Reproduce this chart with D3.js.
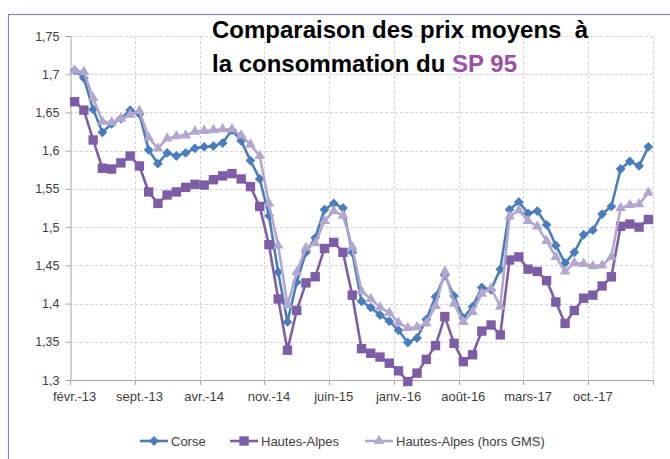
<!DOCTYPE html>
<html>
<head>
<meta charset="utf-8">
<script src="https://cdn.jsdelivr.net/npm/d3@7/dist/d3.min.js"></script>
<style>
html,body{margin:0;padding:0;background:#fff;}
svg{display:block;}
text{font-family:"Liberation Sans",Arial,sans-serif;}
</style>
</head>
<body>
<svg id="chart" width="670" height="459"></svg>
<script>
// ---- data ----
const monthNames = ["janv.","févr.","mars","avr.","mai","juin","juil.","août","sept.","oct.","nov.","déc."];
const startYear = 2013, startMonth = 1, nMonths = 63; // févr.-13 .. avr.-18
const categories = [];
for (let k = 0; k < nMonths; k++) {
  const m = (startMonth + k) % 12, yy = startYear + Math.floor((startMonth + k) / 12);
  categories.push(monthNames[m] + "-" + String(yy).slice(2));
}
const xTickLabels = ["févr.-13","sept.-13","avr.-14","nov.-14","juin-15","janv.-16","août-16","mars-17","oct.-17"];

const corse = [1.705,1.695,1.654,1.624,1.635,1.642,1.653,1.648,1.601,1.583,1.597,1.593,1.597,1.603,1.605,1.606,1.610,1.627,1.613,1.587,1.563,1.515,1.441,1.376,1.428,1.467,1.486,1.523,1.531,1.525,1.467,1.403,1.395,1.385,1.377,1.365,1.349,1.355,1.379,1.409,1.437,1.410,1.381,1.396,1.421,1.418,1.445,1.523,1.533,1.518,1.521,1.503,1.476,1.453,1.467,1.490,1.496,1.517,1.527,1.576,1.586,1.580,1.605];
const hautesAlpes = [1.664,1.653,1.614,1.577,1.576,1.584,1.593,1.580,1.546,1.531,1.542,1.546,1.552,1.556,1.555,1.562,1.567,1.570,1.563,1.553,1.527,1.477,1.406,1.339,1.391,1.427,1.435,1.472,1.480,1.467,1.411,1.341,1.335,1.330,1.322,1.312,1.298,1.309,1.327,1.345,1.383,1.348,1.324,1.333,1.364,1.372,1.359,1.457,1.461,1.445,1.442,1.430,1.402,1.374,1.391,1.407,1.411,1.423,1.435,1.501,1.504,1.500,1.510];
const horsGMS = [1.705,1.703,1.669,1.638,1.637,1.642,1.647,1.652,1.617,1.603,1.616,1.619,1.620,1.625,1.626,1.627,1.628,1.628,1.620,1.608,1.593,1.531,1.476,1.398,1.441,1.473,1.479,1.508,1.521,1.515,1.474,1.416,1.406,1.395,1.388,1.375,1.368,1.369,1.374,1.397,1.442,1.400,1.376,1.389,1.413,1.420,1.396,1.514,1.522,1.508,1.501,1.482,1.461,1.442,1.453,1.452,1.449,1.450,1.461,1.525,1.529,1.530,1.545];

const yTickValues = [1.3,1.35,1.4,1.45,1.5,1.55,1.6,1.65,1.7,1.75];
const yTickLabels = ["1,3","1,35","1,4","1,45","1,5","1,55","1,6","1,65","1,7","1,75"];
const seriesNames = ["Corse","Hautes-Alpes","Hautes-Alpes (hors GMS)"];

// ---- setup ----
const svg = d3.select("#chart");
const L = 70, R = 653, T = 36, B = 380;
const x = d3.scaleBand().domain(categories).range([L, R]).padding(0);
const bw = x.bandwidth();
const y = d3.scaleLinear().domain([1.3, 1.75]).range([B, T]);

svg.append("rect").attr("x",0).attr("y",0).attr("width",670).attr("height",459).attr("fill","#fff");
// outer frame
svg.append("rect").attr("x",8.5).attr("y",14.5).attr("width",700).attr("height",500)
  .attr("fill","none").attr("stroke","#8a84a0").attr("stroke-width",1.2);

// gridlines horizontal
svg.append("g").selectAll("line").data(yTickValues.slice(1)).join("line")
  .attr("x1",L).attr("x2",R).attr("y1",d=>Math.round(y(d))+0.5).attr("y2",d=>Math.round(y(d))+0.5)
  .attr("stroke","#d4d4d4").attr("stroke-dasharray","3,2");
// gridlines vertical at band boundaries every 7
const boundaries = d3.range(0, nMonths + 1, 7).map(k => k < nMonths ? x(categories[k]) : R);
svg.append("g").selectAll("line").data(boundaries.slice(1)).join("line")
  .attr("x1",d=>Math.round(d)+0.5).attr("x2",d=>Math.round(d)+0.5).attr("y1",T).attr("y2",B)
  .attr("stroke","#d4d4d4").attr("stroke-dasharray","3,2");

// y axis
const yAxis = d3.axisLeft(y).tickValues(yTickValues).tickSize(5).tickPadding(6)
  .tickFormat((d,i)=>yTickLabels[i]);
const gy = svg.append("g").attr("transform",`translate(${L+0.5},0)`).call(yAxis);
gy.select(".domain").attr("stroke","#a6a6a6");
gy.selectAll(".tick line").attr("stroke","#a6a6a6");
gy.selectAll("text").attr("fill","#404040").style("font-size","12.5px");

// x axis
svg.append("line").attr("x1",L).attr("x2",R).attr("y1",B+0.5).attr("y2",B+0.5).attr("stroke","#a6a6a6");
svg.append("g").selectAll("line").data(boundaries).join("line")
  .attr("x1",d=>Math.round(d)+0.5).attr("x2",d=>Math.round(d)+0.5).attr("y1",B).attr("y2",B+5)
  .attr("stroke","#a6a6a6");
const xAxis = d3.axisBottom(x).tickValues(xTickLabels).tickSize(0).tickPadding(12);
const gx = svg.append("g").attr("transform",`translate(0,${B})`).call(xAxis);
gx.select(".domain").remove();
gx.selectAll("text").attr("fill","#404040").style("font-size","13px");

// series
const colors = ["#4a7ebb","#7d5ea6","#b3a7d0"];
const data = [corse, hautesAlpes, horsGMS];
const cx = i => x(categories[i]) + bw/2;
const line = d3.line().x((d,i)=>cx(i)).y(d=>y(d));
const symbolFor = (s) => {
  if (s === 0) return {path: d3.symbol(d3.symbolSquare, 48)(), rot: 45};
  if (s === 1) return {path: d3.symbol(d3.symbolSquare, 88)(), rot: 0};
  return {path: d3.symbol(d3.symbolTriangle, 50)(), rot: 0};
};
data.forEach((vals, s) => {
  const g = svg.append("g");
  g.append("path").datum(vals).attr("d", line).attr("fill","none")
    .attr("stroke", colors[s]).attr("stroke-width", 2.6).attr("stroke-linejoin","round");
  const sym = symbolFor(s);
  g.selectAll("path.m").data(vals).join("path").attr("class","m")
    .attr("d", sym.path)
    .attr("transform",(d,i)=>`translate(${cx(i)},${y(d)}) rotate(${sym.rot})`)
    .attr("fill", colors[s]);
});

// title
const title = svg.append("text").attr("x",212).attr("y",38)
  .style("font-size","24px").style("font-weight","bold").attr("fill","#000");
title.text("Comparaison des prix moyens\u00a0 à");
const t2 = svg.append("text").attr("x",212).attr("y",72)
  .style("font-size","24px").style("font-weight","bold").attr("fill","#000");
t2.append("tspan").text("la consommation du ");
t2.append("tspan").attr("fill","#9b4fa8").text("SP 95");

// legend
const legX = [140, 230, 365];
const legY = 441;
seriesNames.forEach((name, s) => {
  const g = svg.append("g");
  g.append("line").attr("x1",legX[s]).attr("x2",legX[s]+28).attr("y1",legY).attr("y2",legY)
    .attr("stroke",colors[s]).attr("stroke-width",2.6);
  const sym = symbolFor(s);
  g.append("path").attr("d",sym.path).attr("transform",`translate(${legX[s]+14},${legY}) rotate(${sym.rot})`)
    .attr("fill",colors[s]);
  g.append("text").attr("x",legX[s]+31).attr("y",legY+4.5).text(name)
    .style("font-size","13px").attr("fill","#404040");
});
</script>
</body>
</html>
